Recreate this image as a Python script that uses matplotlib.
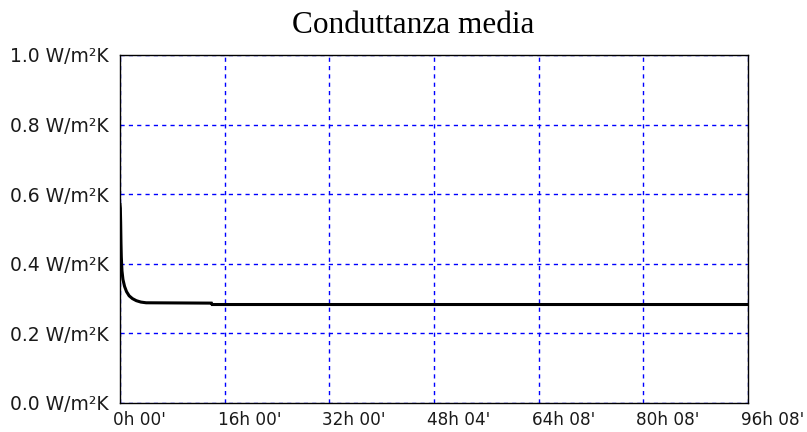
import matplotlib
matplotlib.use("Agg")
import matplotlib.pyplot as plt
import matplotlib.transforms as mtransforms

# Curve of mean conductance over time (hours, W/m²K)
hours = [0.0, 0.05, 0.1, 0.15, 0.2, 0.3, 0.45, 0.7, 1.0, 1.4, 1.9, 2.5, 3.2, 4.0, 14.0, 14.1, 96.13]
conductance = [0.57, 0.56, 0.52, 0.46, 0.42, 0.38, 0.355, 0.335, 0.32, 0.308, 0.300, 0.294, 0.290, 0.288, 0.287, 0.283, 0.283]

y_ticks = [0.0, 0.2, 0.4, 0.6, 0.8, 1.0]
y_labels = ["0.0 W/m²K", "0.2 W/m²K", "0.4 W/m²K", "0.6 W/m²K", "0.8 W/m²K", "1.0 W/m²K"]
x_end = 96 + 8 / 60
x_labels = ["0h 00'", "16h 00'", "32h 00'", "48h 04'", "64h 08'", "80h 08'", "96h 08'"]

tick_font = ["Liberation Sans Narrow", "DejaVu Sans"]

fig = plt.figure(figsize=(8.07, 4.32), dpi=100)
ax = fig.add_axes([120 / 807, 29 / 432, 628 / 807, 348 / 432])

ax.plot(hours, conductance, color="black", linewidth=2.2, solid_joinstyle="miter")

ax.set_xlim(0, x_end)
ax.set_ylim(0, 1.0)
x_ticks = [x_end * i / 6 for i in range(7)]
ax.set_xticks(x_ticks)
ax.set_xticklabels([])
ax.set_yticks(y_ticks)
ax.set_yticklabels(y_labels, family=tick_font, fontsize=13.5, color="#1a1a1a")

# x labels start a few pixels left of their gridline
offset = mtransforms.ScaledTranslation(-7 / 100, -8 / 100, fig.dpi_scale_trans)
for xt, lab in zip(x_ticks, x_labels):
    ax.text(xt, 0, lab, transform=ax.get_xaxis_transform() + offset,
            family=tick_font, fontsize=12.2, color="#1a1a1a", ha="left", va="top")

ax.tick_params(axis="both", length=0)
ax.tick_params(axis="y", pad=8)
ax.grid(True, color="blue", linestyle=(0, (3, 3)), linewidth=1.0)
for sp in ax.spines.values():
    sp.set_linewidth(1.0)
    sp.set_color("black")

fig.text(0.512, 0.975, "Conduttanza media", family="Liberation Serif", fontsize=22.5,
         ha="center", va="top")

fig.savefig("out.png", dpi=100)
